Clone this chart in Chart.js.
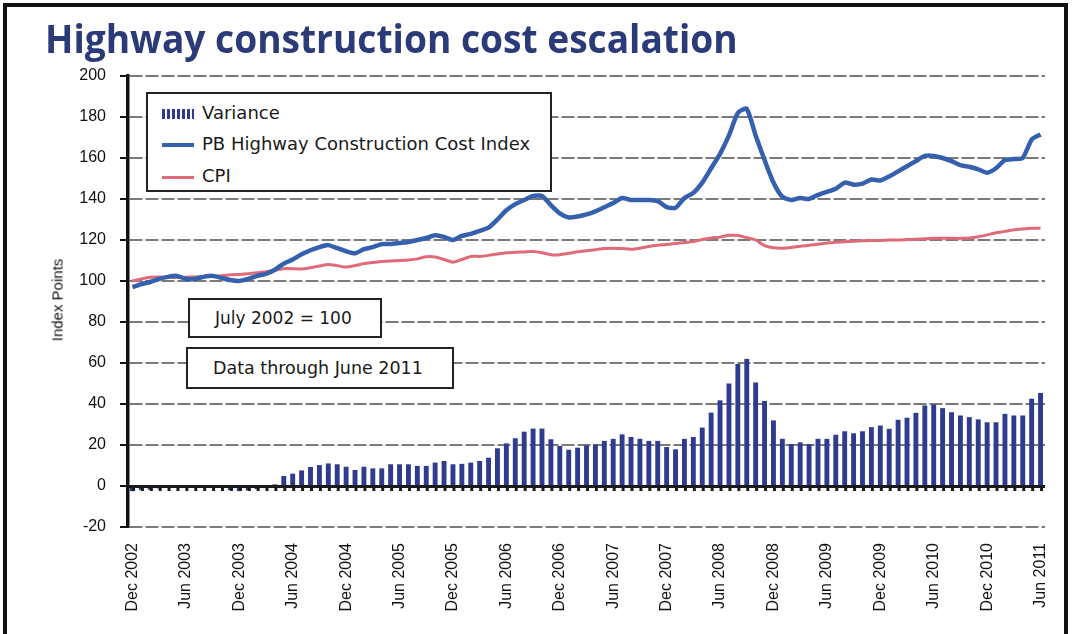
<!DOCTYPE html>
<html>
<head>
<meta charset="utf-8">
<script src="https://cdn.jsdelivr.net/npm/chart.js@4.4.1/dist/chart.umd.min.js"></script>
<style>
  html, body { margin: 0; padding: 0; background: #fff; }
  #wrap { position: relative; width: 1078px; height: 634px; overflow: hidden; background: #fff; }
  #frame { position: absolute; left: 3px; top: 3px; width: 1065px; height: 660px;
           border: 4px solid #111; border-bottom: none; box-sizing: border-box; }
  #chart { position: absolute; left: 0; top: 0; }
  #title { position: absolute; left: 45px; top: 18px; font: bold 39px/39px "Open Sans", sans-serif;
           color: #2b3a78; white-space: nowrap; transform-origin: 0 0; }
  .box { position: absolute; background: #fff; border: 2px solid #222; box-sizing: border-box;
         font-family: "DejaVu Sans", sans-serif; color: #1a1a1a; }
  #legend { left: 146px; top: 92px; width: 406px; height: 100px; font-size: 18px; }
  .row { position: absolute; left: 14px; height: 24px; line-height: 24px; white-space: nowrap; }
  .sym { display: inline-block; width: 32px; vertical-align: middle; margin-right: 8px; }
  .var { height: 10px; background: repeating-linear-gradient(90deg, #2f3b8f 0 3px, transparent 3px 5px); }
  .pb { height: 4px; background: #3460ad; }
  .cpi { height: 3px; background: #e06b78; }
  #note1 { left: 188px; top: 298px; width: 194px; height: 40px; font-size: 17px; line-height: 36px; padding-left: 25px; }
  #note2 { left: 186px; top: 347px; width: 268px; height: 42px; font-size: 17.5px; line-height: 38px; padding-left: 25px; }
  #ytitle { position: absolute; left: 57px; top: 300px; font: 15px "Liberation Sans", Arial, sans-serif; color: #111;
            transform: translate(-50%, -50%) rotate(-90deg); white-space: nowrap; }
</style>
</head>
<body>
<div id="wrap">
  <canvas id="chart" width="1078" height="634"></canvas>
  <div id="title">Highway construction cost escalation</div>
  <div id="ytitle">Index Points</div>
  <div class="box" id="legend">
    <div class="row" style="top:7px"><span class="sym var"></span>Variance</div>
    <div class="row" style="top:38px"><span class="sym pb"></span>PB Highway Construction Cost Index</div>
    <div class="row" style="top:70px"><span class="sym cpi"></span>CPI</div>
  </div>
  <div class="box" id="note1">July 2002 = 100</div>
  <div class="box" id="note2">Data through June 2011</div>
  <div id="frame"></div>
</div>
<script>
// monthly, Dec 2002 .. Jun 2011
const monthNames = ['Jan', 'Feb', 'Mar', 'Apr', 'May', 'Jun', 'Jul', 'Aug', 'Sep', 'Oct', 'Nov', 'Dec'];
const months = [];
for (let k = 0; k < 103; k++) {
  months.push(monthNames[(11 + k) % 12] + ' ' + (2002 + Math.floor((11 + k) / 12)));
}

const tickLabels = ['Dec 2002', 'Jun 2003', 'Dec 2003', 'Jun 2004', 'Dec 2004', 'Jun 2005', 'Dec 2005',
  'Jun 2006', 'Dec 2006', 'Jun 2007', 'Dec 2007', 'Jun 2008', 'Dec 2008', 'Jun 2009', 'Dec 2009',
  'Jun 2010', 'Dec 2010', 'Jun 2011'];

const pbIndex = [
  97, 98.5, 99.5, 101, 102, 102.5, 101, 101, 102, 102.5,
  101.5, 100.5, 100, 101, 102.5, 103.5, 105.5, 108.5, 110.5, 113,
  115, 116.5, 117.5, 116, 114.5, 113.5, 115.5, 116.5, 118, 118,
  118.5, 119, 120, 121, 122.3, 121.5, 120, 122, 123, 124.5,
  126, 130, 134.5, 137.5, 139.5, 141.5, 141.5, 137, 133, 131,
  131.5, 132.5, 134, 136, 138, 140.5, 139.5, 139.5, 139.5, 139,
  136, 135.7, 140.5, 143, 148, 155, 162, 171, 182, 184,
  171, 159, 148, 141, 139.5, 140.5, 140, 142, 143.5, 145,
  148, 147, 147.5, 149.5, 149, 151, 153.5, 156, 158.5, 161,
  161, 160, 158.5, 156.5, 155.7, 154.5, 152.8, 155, 159, 159.5,
  160, 169, 171.5
];

const cpi = [
  100, 101, 101.8, 102, 101.8, 101.7, 101.8, 102, 102.2, 102.4,
  102.6, 103, 103.2, 103.5, 104, 104.5, 105.3, 106, 106, 105.8,
  106.5, 107.3, 108, 107.5, 106.8, 107.5, 108.5, 109, 109.5, 109.8,
  110, 110.3, 110.8, 111.8, 111.7, 110.5, 109.2, 110.5, 112, 112,
  112.5, 113.2, 113.8, 114, 114.2, 114.4, 113.8, 112.8, 112.8, 113.5,
  114.3, 114.8, 115.3, 115.8, 116, 115.8, 115.5, 116, 116.8, 117.4,
  117.8, 118.3, 118.8, 119.2, 120.2, 121, 121.4, 122.3, 122.2, 121.2,
  120, 117.2, 116.2, 116, 116.3, 117, 117.4, 117.9, 118.5, 118.9,
  119.2, 119.4, 119.6, 119.7, 119.8, 120, 120, 120.2, 120.4, 120.6,
  120.8, 120.8, 120.8, 120.8, 121, 121.6, 122.5, 123.5, 124.2, 125,
  125.4, 125.7, 125.8
];

const variance = [
  -2.5, -2, -1.8, -1.2, -0.4, 0.4, -0.3, -0.5, -0.3, 0.2,
  -0.8, -2, -2.5, -2.2, -1.5, -1, 0.8, 4.9, 6, 7.6,
  9.3, 10.2, 11, 10.6, 9.4, 7.8, 9.4, 8.6, 8.6, 10.6,
  10.6, 10.6, 9.8, 9.8, 11.4, 12.2, 10.6, 10.8, 11.4, 12.2,
  13.8, 18.4, 20.8, 23.3, 26.5, 28, 28, 22.8, 19.5, 17.7,
  18.7, 19.8, 20.3, 22, 23, 25.2, 23.9, 23, 22, 22,
  19, 17.9, 23, 23.9, 28.5, 35.8, 41.8, 50, 59.5, 62,
  50.5, 41.5, 32, 23, 20.5, 21.3, 20.5, 23, 23, 25,
  26.7, 25.7, 26.7, 28.7, 29.5, 27.9, 32.3, 33.3, 35.7, 39.3,
  39.8, 38, 36, 34.4, 33.6, 32.5, 31.1, 31.1, 35.2, 34.4,
  34.4, 42.6, 45.4
];

// squeeze the title to the width it has in the print
const title = document.getElementById('title');
title.style.transform = 'scaleX(' + (693 / title.offsetWidth) + ')';

// heavy zero line with little month ticks hanging under it
const zeroAxis = {
  id: 'zeroAxis',
  afterDatasetsDraw(chart) {
    const {ctx, chartArea, scales: {x, y}} = chart;
    const y0 = y.getPixelForValue(0);
    ctx.save();
    ctx.fillStyle = '#1a1a1a';
    ctx.fillRect(chartArea.left, y0 - 1, chartArea.right - chartArea.left, 3);
    for (let i = 0; i < x.ticks.length; i++) {
      ctx.fillRect(x.getPixelForTick(i) - 0.5, y0, 3, 5);
    }
    ctx.restore();
  }
};

new Chart(document.getElementById('chart'), {
  type: 'bar',
  data: {
    labels: months,
    datasets: [
      {
        type: 'line', label: 'PB Highway Construction Cost Index', data: pbIndex,
        borderColor: '#3460ad', borderWidth: 4.5, pointRadius: 0, tension: 0.2, order: 0
      },
      {
        type: 'line', label: 'CPI', data: cpi,
        borderColor: '#e06b78', borderWidth: 3, pointRadius: 0, tension: 0.2, order: 1
      },
      {
        label: 'Variance', data: variance, backgroundColor: '#2f3b8f',
        barPercentage: 0.55, categoryPercentage: 1, order: 2
      }
    ]
  },
  options: {
    responsive: false,
    animation: false,
    layout: { padding: { left: 0, top: 76, right: 33, bottom: 0 } },
    plugins: { legend: { display: false }, tooltip: { enabled: false } },
    scales: {
      x: {
        grid: { display: false },
        border: { display: false },
        afterFit(scale) { scale.height = 107; },
        ticks: {
          autoSkip: false, maxRotation: 90, minRotation: 90, padding: 8,
          color: '#111', font: { family: '"Liberation Sans", Arial, sans-serif', size: 16 },
          callback(value) { const l = months[value]; return tickLabels.includes(l) ? l : ''; }
        }
      },
      y: {
        min: -20, max: 200,
        afterFit(scale) { scale.width = 128; },
        border: { display: true, color: '#111', width: 3.5, dash: [13, 3] },
        grid: { color: '#7a7a7a', lineWidth: 2, tickLength: 8, tickColor: '#111', tickWidth: 2 },
        ticks: {
          stepSize: 20, padding: 14, color: '#111',
          font: { family: '"Liberation Sans", Arial, sans-serif', size: 16 }
        }
      }
    }
  },
  plugins: [zeroAxis]
});
</script>
</body>
</html>
